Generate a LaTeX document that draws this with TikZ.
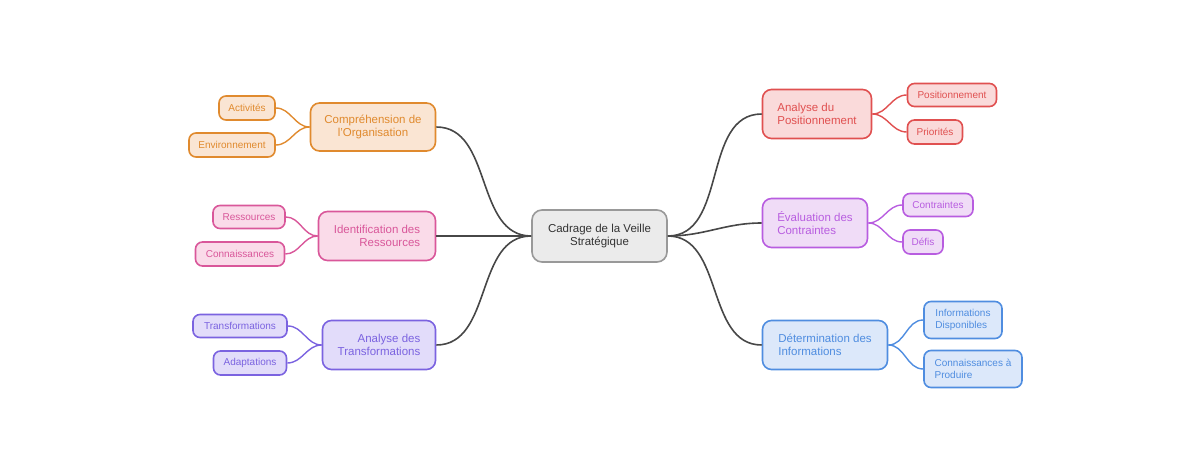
\documentclass[tikz,border=0pt]{standalone}
\usepackage{fontspec}
\setmainfont{Liberation Sans}
\begin{document}
\begin{tikzpicture}[x=1pt,y=-1pt,
 box/.style={draw=#1, line width=1.6pt, rounded corners=9pt, inner sep=0pt, text=#1},
 main/.style={font=\fontsize{11.5}{13}\selectfont},
 kid/.style={font=\fontsize{10}{11.5}\selectfont, rounded corners=7pt},
 tr/.style={line width=1.6pt, draw=black!72},
 ed/.style={line width=1.4pt, draw=#1}]
\useasboundingbox (0,0) rectangle (1200,473);
\definecolor{or}{HTML}{E08A2E}\definecolor{orf}{HTML}{FAE5D3}
\definecolor{pk}{HTML}{D9579A}\definecolor{pkf}{HTML}{FADBE9}
\definecolor{pu}{HTML}{7B63E0}\definecolor{puf}{HTML}{E2DCFA}
\definecolor{rd}{HTML}{E05050}\definecolor{rdf}{HTML}{FADADA}
\definecolor{vi}{HTML}{B85DE0}\definecolor{vif}{HTML}{F0DCF7}
\definecolor{bl}{HTML}{4F8DE0}\definecolor{blf}{HTML}{DCE8FA}
\node[draw=black!40, fill=black!8, line width=1.6pt, rounded corners=10pt, minimum width=135pt, minimum height=52pt, align=center, main, text=black!80] (c) at (599.5,236) {Cadrage de la Veille\\Stratégique};
% left
\node[box=or, fill=orf, main, minimum width=125pt, minimum height=48pt, align=center] (a) at (373,127) {Compréhension de\\l'Organisation};
\node[box=or, fill=orf, kid, minimum width=56pt, minimum height=24pt] (a1) at (247,108) {Activités};
\node[box=or, fill=orf, kid, minimum width=86pt, minimum height=24pt] (a2) at (232,145) {Environnement};
\node[box=pk, fill=pkf, main, minimum width=117pt, minimum height=49pt, align=right] (b) at (377,236) {Identification des\\Ressources};
\node[box=pk, fill=pkf, kid, minimum width=72pt, minimum height=23pt] (b1) at (249,217) {Ressources};
\node[box=pk, fill=pkf, kid, minimum width=89pt, minimum height=24pt] (b2) at (240,254) {Connaissances};
\node[box=pu, fill=puf, main, minimum width=113pt, minimum height=49pt, align=right] (d) at (379,345) {Analyse des\\Transformations};
\node[box=pu, fill=puf, kid, minimum width=94pt, minimum height=23pt] (d1) at (240,326) {Transformations};
\node[box=pu, fill=puf, kid, minimum width=73pt, minimum height=24pt] (d2) at (250,363) {Adaptations};
% right
\node[box=rd, fill=rdf, main, minimum width=109pt, minimum height=49pt, align=left] (e) at (817,114) {Analyse du\\Positionnement};
\node[box=rd, fill=rdf, kid, minimum width=89pt, minimum height=23pt] (e1) at (952,95) {Positionnement};
\node[box=rd, fill=rdf, kid, minimum width=55pt, minimum height=24pt] (e2) at (935,132) {Priorités};
\node[box=vi, fill=vif, main, minimum width=105pt, minimum height=49pt, align=left] (f) at (815,223) {Évaluation des\\Contraintes};
\node[box=vi, fill=vif, kid, minimum width=70pt, minimum height=23pt] (f1) at (938,205) {Contraintes};
\node[box=vi, fill=vif, kid, minimum width=40pt, minimum height=24pt] (f2) at (923,242) {Défis};
\node[box=bl, fill=blf, main, minimum width=125pt, minimum height=49pt, align=left] (g) at (825,345) {Détermination des\\Informations};
\node[box=bl, fill=blf, kid, minimum width=78pt, minimum height=37pt, align=left] (g1) at (963,320) {Informations\\Disponibles};
\node[box=bl, fill=blf, kid, minimum width=98pt, minimum height=37pt, align=left] (g2) at (973,369) {Connaissances à\\Produire};
% edges
\foreach \n in {a,b,d} \draw[tr] (c.west) to[out=180,in=0] (\n.east);
\foreach \n in {e,f,g} \draw[tr] (c.east) to[out=0,in=180] (\n.west);
\draw[ed=or] (a.west) to[out=180,in=0] (a1.east); \draw[ed=or] (a.west) to[out=180,in=0] (a2.east);
\draw[ed=pk] (b.west) to[out=180,in=0] (b1.east); \draw[ed=pk] (b.west) to[out=180,in=0] (b2.east);
\draw[ed=pu] (d.west) to[out=180,in=0] (d1.east); \draw[ed=pu] (d.west) to[out=180,in=0] (d2.east);
\draw[ed=rd] (e.east) to[out=0,in=180] (e1.west); \draw[ed=rd] (e.east) to[out=0,in=180] (e2.west);
\draw[ed=vi] (f.east) to[out=0,in=180] (f1.west); \draw[ed=vi] (f.east) to[out=0,in=180] (f2.west);
\draw[ed=bl] (g.east) to[out=0,in=180] (g1.west); \draw[ed=bl] (g.east) to[out=0,in=180] (g2.west);
\end{tikzpicture}
\end{document}
